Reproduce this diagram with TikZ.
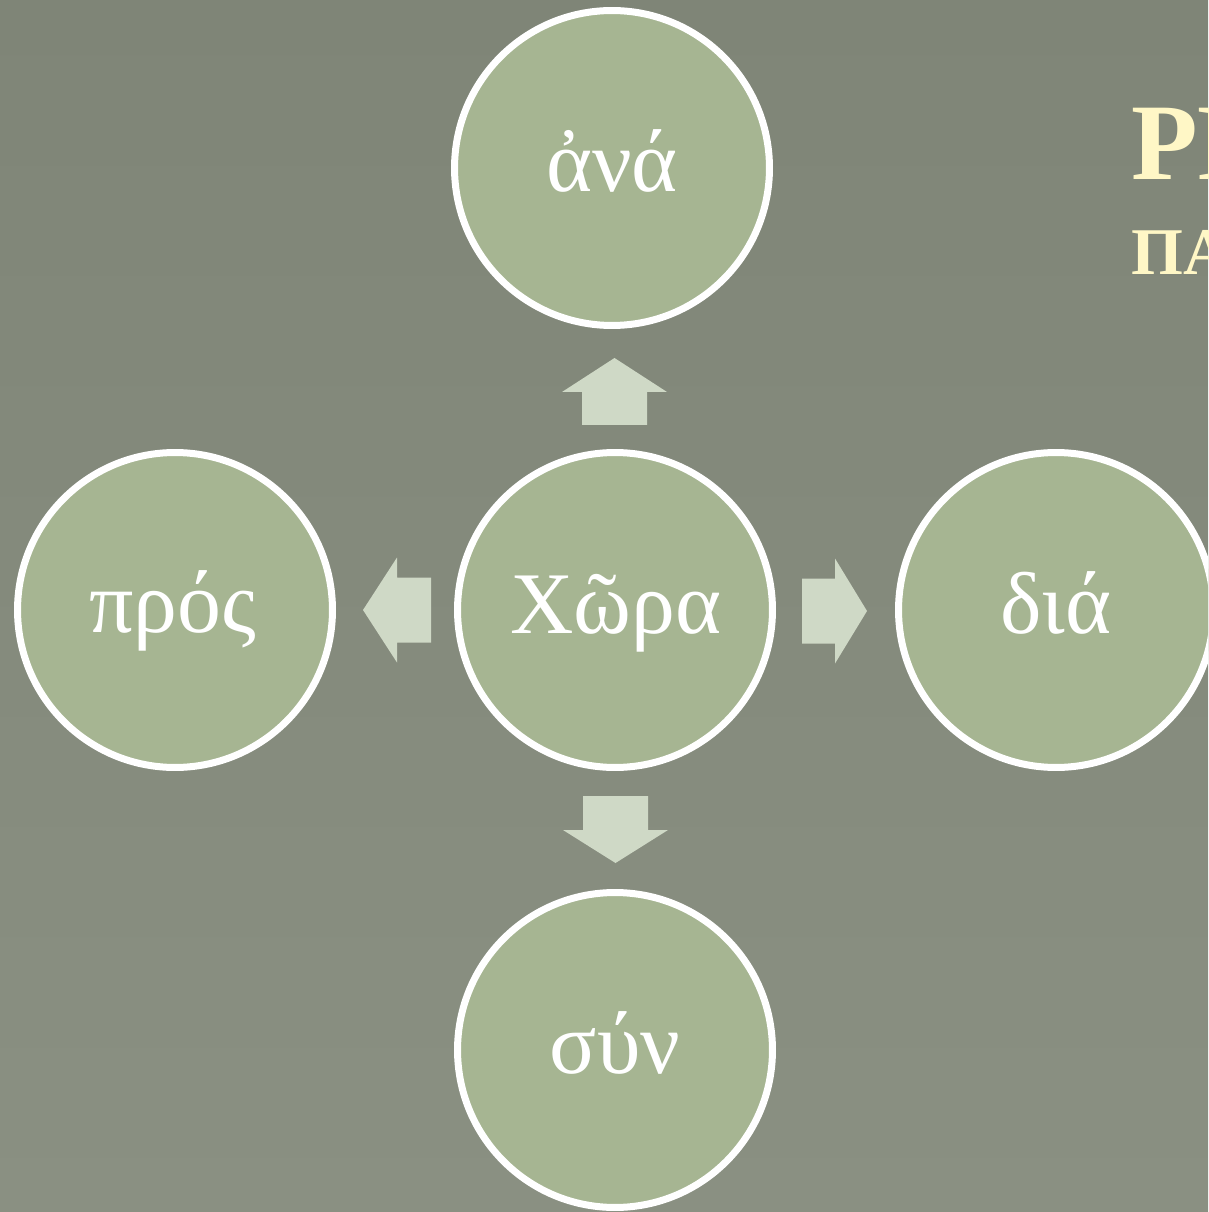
\documentclass[tikz,border=0pt]{standalone}
\usepackage{fontspec}
\setmainfont{Liberation Serif}
\usetikzlibrary{positioning}

\definecolor{bgtop}{HTML}{7F8577}
\definecolor{bgbot}{HTML}{8A9082}
\definecolor{sage}{HTML}{A6B592}
\definecolor{pale}{HTML}{CFD9C6}
\definecolor{cream}{HTML}{FFF7C6}

\begin{document}
\begin{tikzpicture}[x=0.02cm, y=-0.02cm]
        \tikzstyle{circ}=[circle, draw=white, line width=0.14cm, fill=sage, minimum size=6.3cm, inner sep=0pt]
        \tikzstyle{word}=[anchor=base, text=white, inner sep=0pt, font=\fontsize{50}{60}\selectfont]
        \tikzstyle{blk}=[fill=pale]
        \tikzstyle{head}=[anchor=base west, text=cream, inner sep=0pt, font=\bfseries]

        \useasboundingbox (0,0) rectangle (1208,1212);
        \clip (0,0) rectangle (1208,1212);
        \fill[top color=bgtop, bottom color=bgbot] (0,0) rectangle (1208,1212);

        % the five circles
        \node[circ] (ana)  at (612,168)  {};
        \node[circ] (pros) at (175,610)  {};
        \node[circ] (xora) at (615,610)  {};
        \node[circ] (dia)  at (1056,610) {};
        \node[circ] (syn)  at (615,1050) {};

        \node[word] (anaW)  at (612,192)  {ἀνά};
        \node[word] (prosW) at (173,632)  {πρός};
        \node[word] (xoraW) at (616,633)  {Χῶρα};
        \node[word] (diaW)  at (1056,633) {διά};
        \node[word] (synW)  at (615,1073) {σύν};

        % block arrows
        \fill[blk] (582,425) -- (582,392) -- (562,392) -- (614.5,358) -- (667,392) -- (647,392) -- (647,425) -- cycle;
        \fill[blk] (583,796) -- (648,796) -- (648,830) -- (668,830) -- (615.5,863) -- (563,830) -- (583,830) -- cycle;
        \fill[blk] (431,577.5) -- (397,577.5) -- (397,557.5) -- (363,610) -- (397,662.5) -- (397,642.5) -- (431,642.5) -- cycle;
        \fill[blk] (802,578.5) -- (835,578.5) -- (835,558.5) -- (867,611) -- (835,663.5) -- (835,643.5) -- (802,643.5) -- cycle;

        % heading, cut by the right edge
        \node[head, font=\bfseries\fontsize{62}{70}\selectfont] (title) at (1131,180) {PR};
        \node[head, font=\bfseries\fontsize{38}{46}\selectfont] (sub) at (1131,275) {ΠΑ};

    \end{tikzpicture}
\end{document}
